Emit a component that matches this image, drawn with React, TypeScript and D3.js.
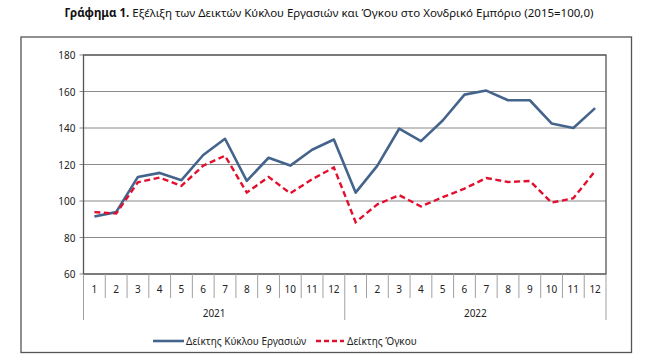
import React from 'react';
import * as d3 from 'd3';

const years = ['2021', '2022'];
const months = ['1', '2', '3', '4', '5', '6', '7', '8', '9', '10', '11', '12'];

const turnover = [
  91.5, 93.9, 113.2, 115.4, 111.4, 125.2, 134.1, 111.0, 123.7, 119.4, 128.1, 133.7,
  104.6, 119.4, 139.6, 132.8, 144.1, 158.3, 160.5, 155.2, 155.2, 142.5, 140.0, 150.9,
];
const volume = [
  93.9, 93.1, 110.3, 112.8, 108.3, 119.4, 124.8, 104.6, 113.2, 104.2, 111.9, 118.4,
  88.4, 98.2, 103.2, 97.0, 102.1, 106.8, 112.6, 110.4, 111.0, 99.1, 101.5, 116.4,
];
const yTicks = [60, 80, 100, 120, 140, 160, 180];

const seriesNames = ['Δείκτης Κύκλου Εργασιών', 'Δείκτης Όγκου'];

const font = '"Noto Sans", "Open Sans", sans-serif';

export default function App() {
  const width = 652;
  const height = 363;
  const left = 83.5;
  const right = 606;
  const top = 55;
  const bottom = 274;

  const keys = years.flatMap(y => months.map(m => `${y}-${m}`));

  const x = d3.scaleBand<string>().domain(keys).range([left, right]);
  const y = d3.scaleLinear().domain([60, 180]).range([bottom, top]);

  const cx = (i: number) => (x(keys[i]) ?? 0) + x.bandwidth() / 2;

  const line = d3
    .line<number>()
    .x((_, i) => cx(i))
    .y(d => y(d));

  const yearWidth = (right - left) / years.length;

  return (
    <svg
      width={width}
      height={height}
      style={{ position: 'absolute', left: 0, top: 0, background: '#fff' }}
      fontFamily={font}
    >
      <text x={329} y={17} textAnchor="middle" fontSize={11.5} fill="#111">
        <tspan fontWeight="bold">Γράφημα 1.</tspan>
        <tspan> Εξέλιξη των Δεικτών Κύκλου Εργασιών και Όγκου στο Χονδρικό Εμπόριο (2015=100,0)</tspan>
      </text>

      {/* outer frame */}
      <rect x={21} y={37} width={610.5} height={315.5} fill="none" stroke="#555" strokeWidth={1.3} />

      {/* grid */}
      {yTicks.map(t => (
        <g key={t}>
          <line x1={left} x2={right} y1={y(t)} y2={y(t)} stroke="#8a8a8a" strokeWidth={1} />
          <line x1={left - 4} x2={left} y1={y(t)} y2={y(t)} stroke="#8a8a8a" />
          <text x={left - 8} y={y(t) + 4} textAnchor="end" fontSize={10} fill="#222">
            {t}
          </text>
        </g>
      ))}

      <rect x={left} y={top} width={right - left} height={bottom - top} fill="none" stroke="#555" strokeWidth={1.3} />

      {/* category axis */}
      {keys.map((k, i) => {
        const x0 = x(k) ?? 0;
        const isYearStart = i % 12 === 0;
        return (
          <g key={k}>
            <line
              x1={x0}
              x2={x0}
              y1={bottom}
              y2={isYearStart ? 320 : 298}
              stroke="#a0a0a0"
            />
            <text x={x0 + x.bandwidth() / 2} y={293} textAnchor="middle" fontSize={10} fill="#222">
              {months[i % 12]}
            </text>
          </g>
        );
      })}
      <line x1={right} x2={right} y1={bottom} y2={320} stroke="#a0a0a0" />
      {years.map((yr, i) => (
        <text
          key={yr}
          x={left + yearWidth * i + yearWidth / 2}
          y={317}
          textAnchor="middle"
          fontSize={10}
          fill="#222"
        >
          {yr}
        </text>
      ))}

      <path d={line(turnover) ?? ''} fill="none" stroke="#44648c" strokeWidth={2.6} strokeLinejoin="round" />
      <path
        d={line(volume) ?? ''}
        fill="none"
        stroke="#e2102e"
        strokeWidth={2.4}
        strokeDasharray="6,3.5"
      />

      {/* legend */}
      <line x1={153} x2={184} y1={341} y2={341} stroke="#44648c" strokeWidth={2.6} />
      <text x={186} y={344.5} fontSize={10} fill="#222">
        {seriesNames[0]}
      </text>
      <line x1={316} x2={344} y1={341} y2={341} stroke="#e2102e" strokeWidth={2.4} strokeDasharray="5,3" />
      <text x={347} y={344.5} fontSize={10} fill="#222">
        {seriesNames[1]}
      </text>
    </svg>
  );
}
